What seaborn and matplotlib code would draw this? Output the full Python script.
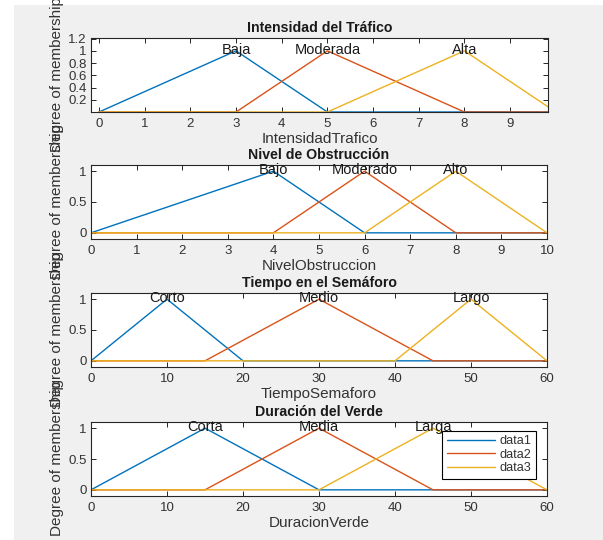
import numpy as np
import pandas as pd
import matplotlib
matplotlib.use("Agg")
import matplotlib.pyplot as plt
from matplotlib.ticker import FuncFormatter
from matplotlib.patches import Rectangle
import seaborn as sns

# ---------------- data ----------------
# Intensidad del Tráfico
int_names = ["Baja", "Moderada", "Alta"]
int_peaks = [3, 5, 8]
int_x1 = [0, 3, 5, 10]
int_y1 = [0, 1, 0, 0]
int_x2 = [0, 3, 5, 8, 10]
int_y2 = [0, 0, 1, 0, 0]
int_x3 = [0, 5, 8, 10]
int_y3 = [0, 0, 1, 0]

# Nivel de Obstrucción
obs_names = ["Bajo", "Moderado", "Alto"]
obs_peaks = [4, 6, 8]
obs_x1 = [0, 4, 6, 10]
obs_y1 = [0, 1, 0, 0]
obs_x2 = [0, 4, 6, 8, 10]
obs_y2 = [0, 0, 1, 0, 0]
obs_x3 = [0, 6, 8, 10]
obs_y3 = [0, 0, 1, 0]

# Tiempo en el Semáforo
tie_names = ["Corto", "Medio", "Largo"]
tie_peaks = [10, 30, 50]
tie_x1 = [0, 10, 20, 60]
tie_y1 = [0, 1, 0, 0]
tie_x2 = [0, 15, 30, 45, 60]
tie_y2 = [0, 0, 1, 0, 0]
tie_x3 = [0, 40, 50, 60]
tie_y3 = [0, 0, 1, 0]

# Duración del Verde
dur_names = ["Corta", "Media", "Larga"]
dur_peaks = [15, 30, 45]
dur_x1 = [0, 15, 30, 60]
dur_y1 = [0, 1, 0, 0]
dur_x2 = [0, 15, 30, 45, 60]
dur_y2 = [0, 0, 1, 0, 0]
dur_x3 = [0, 30, 45, 60]
dur_y3 = [0, 0, 1, 0]

series_labels = ["data1", "data2", "data3"]
titles = ["Intensidad del Tráfico", "Nivel de Obstrucción",
          "Tiempo en el Semáforo", "Duración del Verde"]
xlabels = ["IntensidadTrafico", "NivelObstruccion", "TiempoSemaforo", "DuracionVerde"]
ylabel = "Degree of membership"

# ---------------- style ----------------
sns.set_theme(style="ticks")
plt.rcParams["font.family"] = ["Liberation Sans", "DejaVu Sans"]
edge = "#262626"
txtc = "#333333"
plt.rcParams.update({
    "axes.edgecolor": edge, "axes.linewidth": 0.8,
    "xtick.color": edge, "ytick.color": edge,
    "xtick.labelcolor": txtc, "ytick.labelcolor": txtc,
    "xtick.direction": "in", "ytick.direction": "in",
    "xtick.top": True, "ytick.right": True,
    "xtick.major.size": 3.5, "ytick.major.size": 3.5,
    "xtick.major.width": 0.7, "ytick.major.width": 0.7,
    "xtick.labelsize": 9.5, "ytick.labelsize": 9.5,
})
palette = ["#0072BD", "#D95319", "#EDB120"]

fig = plt.figure(figsize=(6.03, 5.40), dpi=100, facecolor="white")
fig.patches.append(Rectangle((14 / 603, 0), 1, 1 - 5 / 540, transform=fig.transFigure,
                             facecolor="#f0f0f0", edgecolor="none", zorder=-10))

W, H = 603, 540
def rect(l, r, t, b):
    return [l / W, 1 - b / H, (r - l) / W, (b - t) / H]

positions = [rect(91, 548, 38, 112), rect(91, 547, 165, 239),
             rect(91, 547, 293, 367), rect(91, 547, 422, 496)]

groups = [
    ((int_x1, int_y1), (int_x2, int_y2), (int_x3, int_y3), int_names, int_peaks),
    ((obs_x1, obs_y1), (obs_x2, obs_y2), (obs_x3, obs_y3), obs_names, obs_peaks),
    ((tie_x1, tie_y1), (tie_x2, tie_y2), (tie_x3, tie_y3), tie_names, tie_peaks),
    ((dur_x1, dur_y1), (dur_x2, dur_y2), (dur_x3, dur_y3), dur_names, dur_peaks),
]
xlims = [(-0.175, 9.83), (0, 10), (0, 60), (0, 60)]
ylims = [(0.0, 1.21), (-0.1, 1.1), (-0.1, 1.1), (-0.1, 1.1)]
xticks = [list(range(0, 10)), list(range(0, 11)), list(range(0, 61, 10)), list(range(0, 61, 10))]
yticks = [[0.2, 0.4, 0.6, 0.8, 1.0, 1.2], [0, 0.5, 1], [0, 0.5, 1], [0, 0.5, 1]]

fmt = FuncFormatter(lambda v, p: "%g" % v)

for i, (s1, s2, s3, names, peaks) in enumerate(groups):
    ax = fig.add_axes(positions[i])
    ax.set_facecolor("white")
    frames = []
    for lab, (xs, ys) in zip(series_labels, (s1, s2, s3)):
        frames.append(pd.DataFrame({"x": xs, "y": ys, "s": lab}))
    df = pd.concat(frames, ignore_index=True)
    sns.lineplot(data=df, x="x", y="y", hue="s", hue_order=series_labels,
                 palette=palette, estimator=None, sort=False, linewidth=1.0,
                 legend=(i == 3), ax=ax)
    for nm, pk in zip(names, peaks):
        ax.text(pk, 1.02, nm, ha="center", va="center", fontsize=10.5, color="#1a1a1a")
    ax.set_xlim(*xlims[i])
    ax.set_ylim(*ylims[i])
    ax.set_xticks(xticks[i])
    ax.set_yticks(yticks[i])
    ax.yaxis.set_major_formatter(fmt)
    ax.xaxis.set_major_formatter(fmt)
    ax.tick_params(axis="x", pad=4)
    ax.tick_params(axis="y", pad=3)
    ax.set_title(titles[i], fontsize=10.2, fontweight="bold", color="#1a1a1a", pad=4)
    ax.set_xlabel(xlabels[i], fontsize=11, color=txtc, labelpad=2)
    ax.set_ylabel(ylabel, fontsize=11, color=txtc, labelpad=3)
    for sp in ax.spines.values():
        sp.set_visible(True)
    if i == 3:
        leg = ax.legend(loc="upper right", bbox_to_anchor=(0.975, 0.88),
                        fontsize=9.2, frameon=True, fancybox=False,
                        edgecolor="black", framealpha=1, handlelength=3.8,
                        labelspacing=0.12, borderpad=0.35, handletextpad=0.3,
                        borderaxespad=0.0)
        leg.get_frame().set_linewidth(0.8)
        for t in leg.get_texts():
            t.set_color(txtc)

fig.savefig("out.png", dpi=100, facecolor=fig.get_facecolor())
